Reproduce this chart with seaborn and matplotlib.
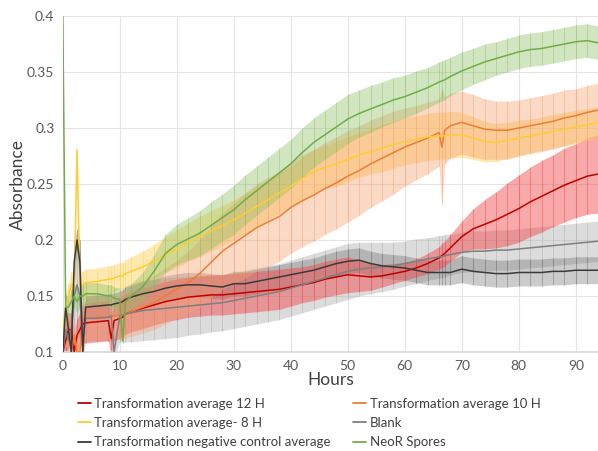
import matplotlib
matplotlib.use("Agg")
import matplotlib.pyplot as plt
from matplotlib.ticker import FuncFormatter
from matplotlib.lines import Line2D
import seaborn as sns
import pandas as pd
import numpy as np

# ---------------- data ----------------
hours = [0, 0.5, 1, 1.5, 2, 2.5, 3, 3.5, 4, 6, 8, 8.5, 9, 10, 10.5, 11, 12,
         14, 16, 18, 20, 22, 24, 26, 28, 30, 32, 34, 36, 38, 40, 42, 44, 46, 48,
         50, 52, 54, 56, 58, 60, 62, 64, 66, 66.5, 67, 68, 70, 72, 74, 76, 78,
         80, 82, 84, 86, 88, 90, 92, 94]

red_12h = [0.100, 0.110, 0.120, 0.120, 0.100, 0.115, 0.120, 0.125, 0.126, 0.127, 0.128, 0.112, 0.128, 0.130, 0.131, 0.134, 0.136,
           0.139, 0.142, 0.145, 0.147, 0.149, 0.150, 0.151, 0.151, 0.152, 0.153, 0.154, 0.155, 0.156, 0.158, 0.160, 0.162, 0.165, 0.167,
           0.169, 0.168, 0.167, 0.168, 0.170, 0.172, 0.175, 0.179, 0.184, 0.186, 0.188, 0.193, 0.203, 0.210, 0.214, 0.218, 0.223,
           0.228, 0.234, 0.239, 0.244, 0.249, 0.253, 0.257, 0.259]
red_12h_err = [0.010, 0.015, 0.015, 0.015, 0.015, 0.015, 0.015, 0.017, 0.018, 0.018, 0.018, 0.018, 0.018, 0.018, 0.018, 0.018, 0.018,
               0.018, 0.018, 0.018, 0.018, 0.018, 0.018, 0.018, 0.018, 0.018, 0.018, 0.018, 0.018, 0.018, 0.017, 0.016, 0.016, 0.016, 0.016,
               0.016, 0.014, 0.012, 0.010, 0.009, 0.008, 0.008, 0.009, 0.010, 0.011, 0.011, 0.012, 0.014, 0.018, 0.022, 0.025, 0.028,
               0.030, 0.031, 0.032, 0.032, 0.033, 0.033, 0.034, 0.035]

orange_10h = [0.100, 0.120, 0.120, 0.100, 0.115, 0.100, 0.100, 0.130, 0.130, 0.131, 0.131, 0.132, 0.132, 0.133, 0.133, 0.134, 0.136,
              0.140, 0.144, 0.150, 0.156, 0.162, 0.170, 0.180, 0.190, 0.197, 0.204, 0.211, 0.216, 0.221, 0.229, 0.235, 0.240, 0.246, 0.251,
              0.257, 0.262, 0.268, 0.273, 0.278, 0.283, 0.287, 0.291, 0.296, 0.283, 0.298, 0.302, 0.305, 0.302, 0.299, 0.298, 0.298,
              0.300, 0.302, 0.304, 0.306, 0.309, 0.311, 0.314, 0.316]
orange_10h_err = [0.010, 0.015, 0.015, 0.015, 0.015, 0.015, 0.015, 0.018, 0.020, 0.020, 0.020, 0.020, 0.020, 0.021, 0.021, 0.022, 0.022,
                  0.023, 0.024, 0.025, 0.026, 0.028, 0.030, 0.032, 0.034, 0.036, 0.038, 0.039, 0.040, 0.040, 0.041, 0.041, 0.041, 0.041, 0.041,
                  0.041, 0.040, 0.039, 0.038, 0.037, 0.035, 0.033, 0.032, 0.030, 0.052, 0.030, 0.029, 0.028, 0.028, 0.027, 0.026, 0.026,
                  0.025, 0.025, 0.025, 0.025, 0.025, 0.024, 0.024, 0.024]

yellow_8h = [0.120, 0.140, 0.150, 0.160, 0.160, 0.280, 0.160, 0.160, 0.162, 0.163, 0.165, 0.165, 0.166, 0.168, 0.168, 0.170, 0.172,
             0.176, 0.181, 0.187, 0.192, 0.198, 0.203, 0.208, 0.213, 0.218, 0.224, 0.230, 0.236, 0.242, 0.248, 0.255, 0.261, 0.265, 0.268,
             0.272, 0.276, 0.279, 0.282, 0.285, 0.288, 0.290, 0.292, 0.293, 0.293, 0.293, 0.294, 0.294, 0.291, 0.288, 0.287, 0.289,
             0.291, 0.293, 0.295, 0.297, 0.299, 0.301, 0.303, 0.305]
yellow_8h_err = [0.010, 0.012, 0.012, 0.012, 0.012, 0.003, 0.012, 0.012, 0.012, 0.012, 0.012, 0.012, 0.012, 0.012, 0.012, 0.012, 0.013,
                 0.014, 0.015, 0.016, 0.017, 0.017, 0.018, 0.018, 0.018, 0.018, 0.018, 0.018, 0.018, 0.018, 0.018, 0.019, 0.019, 0.019, 0.020,
                 0.020, 0.020, 0.020, 0.021, 0.021, 0.021, 0.021, 0.021, 0.021, 0.021, 0.021, 0.021, 0.020, 0.019, 0.018, 0.017, 0.016,
                 0.016, 0.015, 0.015, 0.015, 0.015, 0.015, 0.014, 0.014]

blank = [0.100, 0.120, 0.110, 0.120, 0.150, 0.160, 0.150, 0.110, 0.130, 0.130, 0.131, 0.132, 0.100, 0.132, 0.133, 0.134, 0.135,
         0.137, 0.138, 0.139, 0.140, 0.141, 0.142, 0.143, 0.144, 0.146, 0.148, 0.150, 0.152, 0.154, 0.157, 0.160, 0.163, 0.166, 0.169,
         0.172, 0.174, 0.175, 0.176, 0.177, 0.179, 0.181, 0.183, 0.185, 0.185, 0.186, 0.187, 0.189, 0.190, 0.190, 0.191, 0.191,
         0.192, 0.193, 0.194, 0.195, 0.196, 0.197, 0.198, 0.199]
blank_err = [0.010, 0.018, 0.018, 0.018, 0.040, 0.040, 0.040, 0.018, 0.020, 0.020, 0.021, 0.022, 0.005, 0.023, 0.024, 0.025, 0.026,
             0.027, 0.027, 0.027, 0.027, 0.026, 0.026, 0.025, 0.025, 0.025, 0.025, 0.025, 0.025, 0.025, 0.025, 0.025, 0.025, 0.025, 0.025,
             0.025, 0.024, 0.023, 0.022, 0.021, 0.020, 0.020, 0.019, 0.019, 0.019, 0.019, 0.018, 0.018, 0.018, 0.018, 0.018, 0.018,
             0.018, 0.018, 0.018, 0.018, 0.018, 0.018, 0.018, 0.018]

neg_ctrl = [0.100, 0.140, 0.120, 0.100, 0.180, 0.200, 0.180, 0.100, 0.140, 0.141, 0.142, 0.142, 0.143, 0.144, 0.145, 0.147, 0.149,
            0.152, 0.154, 0.157, 0.159, 0.160, 0.160, 0.159, 0.158, 0.161, 0.161, 0.163, 0.165, 0.167, 0.169, 0.171, 0.173, 0.176, 0.179,
            0.181, 0.182, 0.179, 0.177, 0.176, 0.175, 0.173, 0.171, 0.171, 0.171, 0.171, 0.171, 0.174, 0.172, 0.171, 0.170, 0.170,
            0.171, 0.171, 0.171, 0.172, 0.172, 0.173, 0.173, 0.173]
neg_ctrl_err = [0.010, 0.010, 0.010, 0.010, 0.020, 0.010, 0.020, 0.010, 0.010, 0.010, 0.010, 0.010, 0.010, 0.010, 0.010, 0.011, 0.011,
                0.011, 0.011, 0.011, 0.011, 0.011, 0.011, 0.011, 0.011, 0.011, 0.011, 0.011, 0.011, 0.011, 0.011, 0.011, 0.011, 0.011, 0.011,
                0.011, 0.011, 0.011, 0.011, 0.011, 0.011, 0.011, 0.011, 0.011, 0.011, 0.011, 0.011, 0.012, 0.012, 0.012, 0.012, 0.012,
                0.012, 0.012, 0.012, 0.012, 0.012, 0.012, 0.012, 0.012]

neor = [0.400, 0.140, 0.140, 0.145, 0.150, 0.145, 0.150, 0.150, 0.152, 0.152, 0.150, 0.150, 0.148, 0.147, 0.110, 0.145, 0.150,
        0.158, 0.172, 0.188, 0.196, 0.201, 0.206, 0.213, 0.220, 0.227, 0.236, 0.244, 0.252, 0.260, 0.268, 0.278, 0.287, 0.294, 0.301,
        0.308, 0.313, 0.317, 0.321, 0.325, 0.328, 0.332, 0.336, 0.341, 0.342, 0.343, 0.346, 0.351, 0.355, 0.359, 0.362, 0.365,
        0.368, 0.370, 0.371, 0.373, 0.375, 0.377, 0.378, 0.376]
neor_err = [0.000, 0.010, 0.010, 0.010, 0.010, 0.010, 0.010, 0.010, 0.010, 0.010, 0.010, 0.010, 0.010, 0.010, 0.003, 0.010, 0.011,
            0.013, 0.015, 0.017, 0.018, 0.019, 0.020, 0.021, 0.021, 0.022, 0.022, 0.022, 0.022, 0.022, 0.022, 0.022, 0.022, 0.022, 0.022,
            0.022, 0.021, 0.021, 0.020, 0.020, 0.019, 0.019, 0.018, 0.018, 0.018, 0.018, 0.017, 0.017, 0.016, 0.016, 0.015, 0.015,
            0.015, 0.015, 0.015, 0.015, 0.015, 0.015, 0.015, 0.015]

series_names = ["Transformation average 12 H", "Transformation average 10 H",
                "Transformation average- 8 H", "Blank",
                "Transformation negative control average", "NeoR Spores"]
series_vals = [red_12h, orange_10h, yellow_8h, blank, neg_ctrl, neor]
series_errs = [red_12h_err, orange_10h_err, yellow_8h_err, blank_err, neg_ctrl_err, neor_err]

line_colors = ["#C00000", "#ED7D31", "#FFCC33", "#7F7F7F", "#3A3A3A", "#70AD47"]
band_colors = ["#F04040", "#F4A070", "#FFD050", "#A8A8A8", "#6A6A6A", "#8CC063"]
band_alpha = [0.45, 0.40, 0.45, 0.40, 0.35, 0.40]

# ---------------- figure ----------------
sns.set_theme(style="white")
plt.rcParams["font.family"] = ["Lato", "DejaVu Sans"]

fig = plt.figure(figsize=(5.98, 4.51), dpi=100)
ax = fig.add_axes([0.105, 0.2195, 0.895, 0.745])

rows = []
for name, vals, errs in zip(series_names, series_vals, series_errs):
    for h, v, e in zip(hours, vals, errs):
        rows.append({"Hours": h, "Absorbance": v, "err": e, "Series": name})
df = pd.DataFrame(rows)

# error bands (shaded + vertical error bars)
draw_order = [3, 4, 0, 2, 1, 5]
for k, i in enumerate(draw_order):
    sub = df[df["Series"] == series_names[i]]
    x = sub["Hours"].to_numpy()
    y = sub["Absorbance"].to_numpy()
    e = sub["err"].to_numpy()
    ax.fill_between(x, y - e, y + e, color=band_colors[i], alpha=band_alpha[i],
                    linewidth=0, zorder=1 + k * 0.1)
    ax.vlines(x, y - e, y + e, color=band_colors[i], alpha=0.5, linewidth=0.6,
              zorder=1.05 + k * 0.1)

palette = dict(zip(series_names, line_colors))
sns.lineplot(data=df, x="Hours", y="Absorbance", hue="Series", palette=palette,
             estimator=None, sort=False, linewidth=1.1, ax=ax, legend=False, zorder=3)

ax.set_xlim(0, 93.9)
ax.set_ylim(0.1, 0.4)
ax.set_xticks(np.arange(0, 91, 10))
ax.set_yticks([0.1, 0.15, 0.2, 0.25, 0.3, 0.35, 0.4])
ax.yaxis.set_major_formatter(FuncFormatter(lambda v, p: f"{v:g}"))
ax.grid(True, color="#E4E4E4", linewidth=0.8)
ax.set_axisbelow(True)
for s in ["top", "right", "left"]:
    ax.spines[s].set_visible(False)
ax.spines["bottom"].set_color("#D9D9D9")
ax.tick_params(axis="both", colors="#595959", labelsize=10, length=0, pad=6)

ax.set_xlabel("Hours", fontsize=12.5, color="#404040", labelpad=0)
ax.set_ylabel("Absorbance", fontsize=12.5, color="#404040", labelpad=1)

# legend (row order like the reference)
order = [0, 2, 4, 1, 3, 5]
handles = [Line2D([0], [0], color=line_colors[i], lw=1.3) for i in order]
labels = [series_names[i] for i in order]
fig.legend(handles, labels, loc="upper left", bbox_to_anchor=(0.13, 0.118),
           ncol=2, frameon=False, fontsize=9.5, handlelength=1.0, handletextpad=0.25,
           labelspacing=0.55, columnspacing=1.7, labelcolor="#404040",
           borderaxespad=0, borderpad=0)

fig.savefig("out.png", dpi=100)
